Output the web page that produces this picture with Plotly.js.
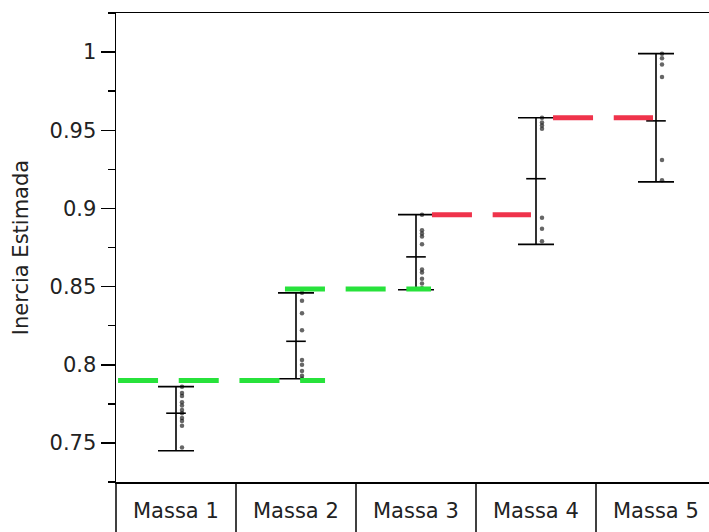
<!DOCTYPE html>
<html><head><meta charset="utf-8">
<script src="https://cdn.plot.ly/plotly-3.0.1.min.js"></script>
<style>html,body{margin:0;padding:0;background:#fff;} #chart{width:709px;height:532px;}</style>
</head><body><div id="chart"></div>
<script>
// ---- data ----
const categories = ['Massa 1', 'Massa 2', 'Massa 3', 'Massa 4', 'Massa 5'];
const rangeMin  = [0.745, 0.791, 0.848, 0.877, 0.917];
const rangeMean = [0.769, 0.815, 0.869, 0.919, 0.956];
const rangeMax  = [0.786, 0.846, 0.896, 0.958, 0.999];

const obsMassa1 = [0.786, 0.782, 0.780, 0.776, 0.774, 0.771, 0.769, 0.766, 0.764, 0.761, 0.747];
const obsMassa2 = [0.846, 0.841, 0.833, 0.822, 0.803, 0.800, 0.796, 0.793, 0.791];
const obsMassa3 = [0.896, 0.886, 0.884, 0.882, 0.877, 0.861, 0.859, 0.855, 0.852, 0.849];
const obsMassa4 = [0.958, 0.955, 0.953, 0.951, 0.894, 0.887, 0.879];
const obsMassa5 = [0.999, 0.996, 0.992, 0.984, 0.931, 0.918];
const observations = [obsMassa1, obsMassa2, obsMassa3, obsMassa4, obsMassa5];

// reference levels (dashed lines): level, start and end in category units
const refLevel = [0.790, 0.8485, 0.896, 0.958];
const refStart = [-0.483, 0.908, 2.133, 3.142];
const refEnd   = [1.242, 2.125, 2.958, 3.975];
const refGroup = ['green', 'green', 'red', 'red'];

// ---- styling ----
const FONT = 'DejaVu Sans, Verdana, sans-serif';
const TXT = '#222';
const groupColor = {green: '#27e23b', red: '#ef334b'};
const xMin = -0.5, pxPerCat = 120, plotW = 709 - 116, plotH = 532 - 13 - 50;
const xMax = xMin + plotW / pxPerCat;
const idx = categories.map((_, i) => i);
const toPaperX = v => (v - xMin) / (xMax - xMin);

const traces = [];

// observations (small dots just right of each bar)
observations.forEach((vals, i) => {
  traces.push({
    type: 'scatter', mode: 'markers',
    x: vals.map(() => idx[i] + 0.05), y: vals,
    marker: {size: 4.5, color: 'rgba(20,20,20,0.65)', symbol: 'circle'},
    hoverinfo: 'y', showlegend: false
  });
});

// min / mean / max bars
traces.push({
  type: 'scatter', mode: 'markers',
  x: idx, y: rangeMean,
  marker: {symbol: 'line-ew', size: 14, color: '#000', line: {width: 1.6, color: '#000'}},
  error_y: {
    type: 'data', symmetric: false,
    array: rangeMax.map((v, i) => v - rangeMean[i]),
    arrayminus: rangeMean.map((v, i) => v - rangeMin[i]),
    width: 18, thickness: 1.6, color: '#000'
  },
  showlegend: false
});

// dashed reference lines
refLevel.forEach((lv, i) => {
  traces.push({
    type: 'scatter', mode: 'lines',
    x: [refStart[i], refEnd[i]], y: [lv, lv],
    line: {color: groupColor[refGroup[i]], width: 5, dash: '40px,20.7px'},
    showlegend: false, hoverinfo: 'y'
  });
});

// category label boxes below the plot
const boxBottom = -50 / plotH;
const shapes = [];
for (let i = 0; i < categories.length; i++) {
  shapes.push({
    type: 'line', xref: 'paper', yref: 'paper',
    x0: toPaperX(idx[i] - 0.5), x1: toPaperX(idx[i] - 0.5),
    y0: 0, y1: boxBottom - 0.01,
    line: {color: '#000', width: 1.5}
  });
}
const annotations = categories.map((c, i) => ({
  xref: 'x', yref: 'paper', x: idx[i], y: -29 / plotH,
  text: c, showarrow: false, xanchor: 'center', yanchor: 'middle',
  font: {family: FONT, size: 21, color: TXT}
}));

const layout = {
  width: 709, height: 532,
  margin: {l: 116, r: 0, t: 13, b: 50},
  paper_bgcolor: '#fff', plot_bgcolor: '#fff',
  showlegend: false,
  xaxis: {
    range: [xMin, xMax], showgrid: false, zeroline: false,
    showline: true, mirror: true, linecolor: '#000', linewidth: 1.5,
    showticklabels: false, ticks: ''
  },
  yaxis: {
    range: [0.725, 1.025], tick0: 0.75, dtick: 0.05,
    showgrid: false, zeroline: false,
    showline: true, linecolor: '#000', linewidth: 1.5,
    ticks: 'outside', ticklen: 14, tickwidth: 1.5, tickcolor: '#000',
    minor: {dtick: 0.025, tick0: 0.725, ticks: 'outside', ticklen: 7, tickwidth: 1.5, tickcolor: '#000', showgrid: false},
    tickfont: {family: FONT, size: 21, color: TXT},
    title: {text: 'Inercia Estimada', font: {family: FONT, size: 21, color: TXT}, standoff: 15}
  },
  shapes: shapes,
  annotations: annotations
};

Plotly.newPlot('chart', traces, layout, {displayModeBar: false, staticPlot: true});
</script>
</body></html>
